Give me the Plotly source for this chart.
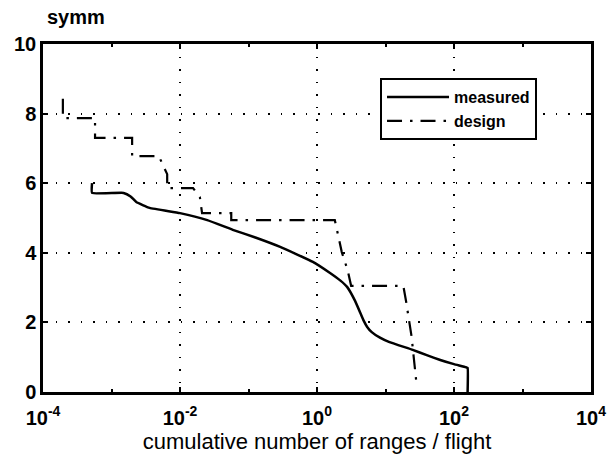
import plotly.graph_objects as go

# Measured curve (x: cumulative number of ranges / flight, y: symm)
measured_x = [5.2e-4, 5.2e-4, 1.5e-3, 1.9e-3, 2.3e-3, 3.6e-3, 1.0e-2, 2.5e-2, 5.9e-2,
              0.126, 0.29, 0.87, 1.55, 2.2, 2.75, 3.55, 4.3, 4.8, 5.4, 6.3, 8.3, 11.2,
              25, 40, 63, 100, 150, 158, 158]
measured_y = [6.0, 5.72, 5.72, 5.62, 5.46, 5.29, 5.14, 4.94, 4.66,
              4.44, 4.17, 3.74, 3.42, 3.2, 3.02, 2.64, 2.27, 2.05, 1.87, 1.72, 1.56, 1.44,
              1.21, 1.06, 0.92, 0.80, 0.71, 0.69, 0.0]

# Design spectrum (step-like)
design_x = [1.95e-4, 1.95e-4, 5.75e-4, 5.75e-4, 2.0e-3, 2.0e-3, 4.9e-3, 6.5e-3, 6.5e-3,
            1.55e-2, 1.95e-2, 2.1e-2, 5.6e-2, 5.6e-2, 1.82, 2.15, 2.3, 2.8, 3.15,
            18.2, 20, 24, 28]
design_y = [8.43, 7.87, 7.87, 7.3, 7.3, 6.78, 6.78, 6.26, 5.86,
            5.86, 5.6, 5.14, 5.14, 4.94, 4.94, 4.3, 4.02, 3.5, 3.05,
            3.05, 2.6, 1.6, 0.34]

x_tickvals = [1e-4, 1e-2, 1e0, 1e2, 1e4]
x_ticktext = ["10<sup>-4</sup>", "10<sup>-2</sup>", "10<sup>0</sup>", "10<sup>2</sup>", "10<sup>4</sup>"]
x_minor = [1e-3, 1e-1, 1e1, 1e3]
y_tickvals = [0, 2, 4, 6, 8, 10]

FONT = "Liberation Sans, Arial, Helvetica, sans-serif"

fig = go.Figure()
fig.add_trace(go.Scatter(x=measured_x, y=measured_y, mode="lines", name="measured",
                         line=dict(color="black", width=2.5, shape="spline", smoothing=0.35)))
fig.add_trace(go.Scatter(x=design_x, y=design_y, mode="lines", name="design",
                         line=dict(color="black", width=2.2, dash="15px,8px,2.5px,8px")))

fig.update_layout(
    width=613, height=454,
    margin=dict(l=43, r=22, t=44, b=62, autoexpand=False),
    paper_bgcolor="white", plot_bgcolor="white",
    font=dict(family=FONT, color="black", size=20),
    showlegend=True,
    legend=dict(x=0.615, y=0.902, xanchor="left", yanchor="top",
                bgcolor="white", bordercolor="black", borderwidth=2,
                font=dict(size=16, family=FONT, weight="bold"), itemwidth=62),
    xaxis=dict(type="log", range=[-4, 4], tickvals=x_tickvals, ticktext=x_ticktext,
               ticks="inside", ticklen=5, tickwidth=1.5, tickcolor="black",
               showline=True, linecolor="black", linewidth=2.5, mirror="ticks",
               showgrid=True, gridcolor="black", gridwidth=1.5, griddash="1.5px,11px",
               zeroline=False, ticklabelstandoff=6, automargin=False,
               tickfont=dict(size=20, weight="bold"),
               minor=dict(tickvals=x_minor, ticks="inside", ticklen=3, tickcolor="black",
                          tickwidth=1.5, showgrid=False),
               title=dict(text="cumulative number of ranges / flight", font=dict(size=22),
                          standoff=10)),
    yaxis=dict(range=[0, 10], tickvals=y_tickvals, automargin=False,
               ticks="inside", ticklen=5, tickwidth=1.5, tickcolor="black",
               showline=True, linecolor="black", linewidth=2.5, mirror="ticks",
               showgrid=True, gridcolor="black", gridwidth=1.5, griddash="1.5px,11px",
               zeroline=False,
               tickfont=dict(size=20, weight="bold")),
    annotations=[dict(text="symm", xref="paper", yref="paper", x=0.004, y=1.078,
                      xanchor="left", yanchor="middle", showarrow=False,
                      font=dict(size=20, weight="bold"))],
)

fig.write_html("out.html")
